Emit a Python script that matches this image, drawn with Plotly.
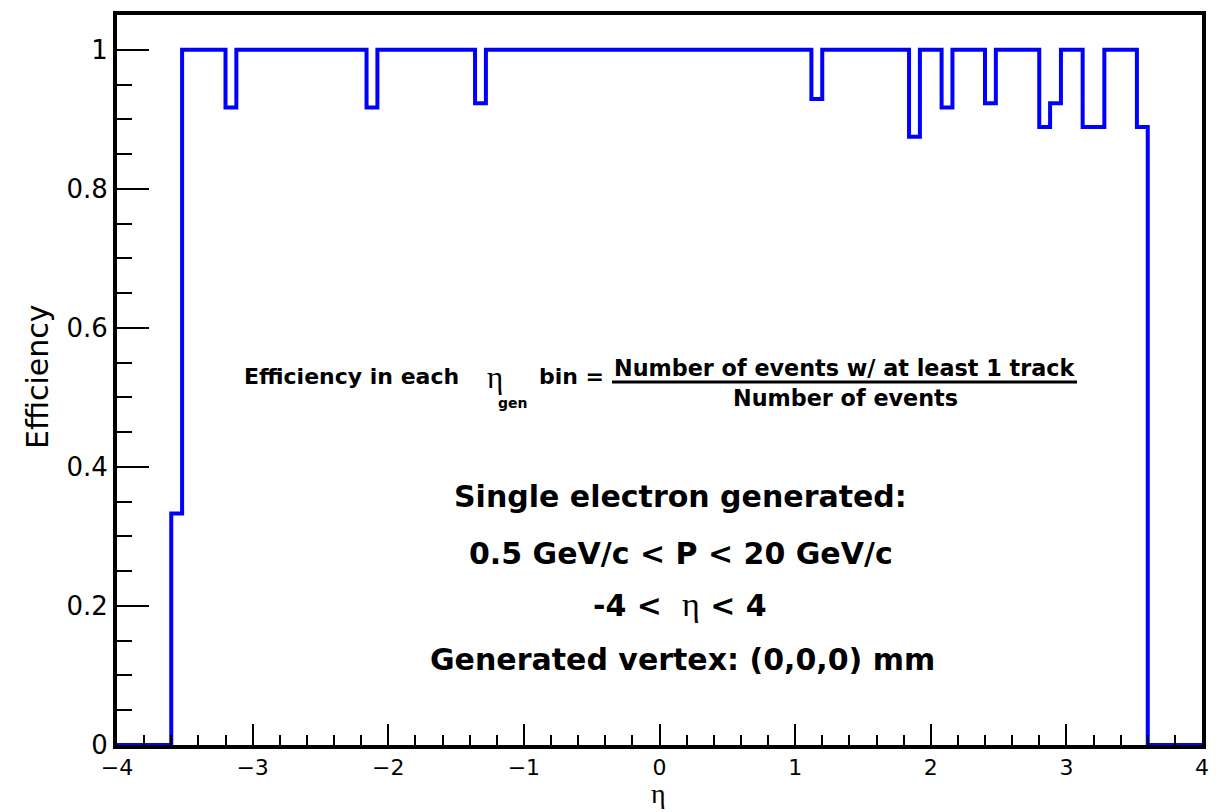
import numpy as np
import plotly.graph_objects as go

# ---------------- data ----------------
eta_min, eta_max, n_bins = -4.0, 4.0, 100
bin_edges = np.linspace(eta_min, eta_max, n_bins + 1)

efficiency = [
    0, 0, 0, 0, 0, 0.333, 1, 1, 1, 1,                 # -4.00 .. -3.28
    0.917, 1, 1, 1, 1, 1, 1, 1, 1, 1,                 # -3.20 .. -2.48
    1, 1, 1, 0.917, 1, 1, 1, 1, 1, 1,                 # -2.40 .. -1.68
    1, 1, 1, 0.923, 1, 1, 1, 1, 1, 1,                 # -1.60 .. -0.88
    1, 1, 1, 1, 1, 1, 1, 1, 1, 1,                     # -0.80 .. -0.08
    1, 1, 1, 1, 1, 1, 1, 1, 1, 1,                     #  0.00 ..  0.72
    1, 1, 1, 1, 0.929, 1, 1, 1, 1, 1,                 #  0.80 ..  1.52
    1, 1, 1, 0.875, 1, 1, 0.917, 1, 1, 1,             #  1.60 ..  2.32
    0.923, 1, 1, 1, 1, 0.889, 0.923, 1, 1, 0.889,     #  2.40 ..  3.12
    0.889, 1, 1, 1, 0.889, 0, 0, 0, 0, 0,             #  3.20 ..  3.92
]

x_tick_vals = [-4, -3, -2, -1, 0, 1, 2, 3, 4]
y_tick_vals = [0, 0.2, 0.4, 0.6, 0.8, 1.0]
y_tick_text = ["0", "0.2", "0.4", "0.6", "0.8", "1"]

# ---------------- layout helpers (pixel -> paper) ----------------
W, H = 1225, 812
L, R, T, B = 117, 23, 11, 67
PW, PH = W - L - R, H - T - B


def fx(px):
    return (px - L) / PW


def fy(py):
    return (H - B - py) / PH


SANS = "DejaVu Sans"
SERIF = "Liberation Serif"

step_x = list(bin_edges)
step_y = list(efficiency) + [efficiency[-1]]

fig = go.Figure()
fig.add_trace(go.Scatter(
    x=step_x, y=step_y, mode="lines",
    line=dict(color="#0000FF", width=4, shape="hv"),
    showlegend=False, hoverinfo="skip",
))

fig.update_layout(
    width=W, height=H,
    margin=dict(l=L, r=R, t=T, b=B, pad=0),
    paper_bgcolor="white", plot_bgcolor="white",
    showlegend=False,
)

fig.update_xaxes(
    range=[eta_min, eta_max],
    tickmode="array", tickvals=x_tick_vals,
    ticks="inside", ticklen=21, tickwidth=2, tickcolor="black",
    minor=dict(dtick=0.2, ticks="inside", ticklen=10, tickwidth=2, tickcolor="black", showgrid=False),
    showline=True, linewidth=4, linecolor="black", mirror=True,
    showgrid=False, zeroline=False,
    tickfont=dict(family=SANS, size=22, color="black"),
)
fig.update_yaxes(
    range=[0, 1.05],
    tickmode="array", tickvals=y_tick_vals, ticktext=y_tick_text,
    ticks="inside", ticklen=32, tickwidth=2, tickcolor="black",
    minor=dict(dtick=0.05, ticks="inside", ticklen=15, tickwidth=2, tickcolor="black", showgrid=False),
    showline=True, linewidth=4, linecolor="black", mirror=True,
    showgrid=False, zeroline=False,
    tickfont=dict(family=SANS, size=26, color="black"),
)

ann = []


def add(text, px, py, size, family=SANS, xanchor="center", angle=0):
    ann.append(dict(
        text=text, x=fx(px), y=fy(py), xref="paper", yref="paper",
        xanchor=xanchor, yanchor="middle", showarrow=False, textangle=angle,
        font=dict(family=family, size=size, color="black"), borderpad=0,
    ))


# axis titles
add("Efficiency", 37, 375, 30, angle=-90)
add("η", 658, 794, 28, family=SERIF)

# efficiency formula
add("<b>Efficiency in each</b>", 243, 374, 22, xanchor="left")
add("η", 486, 375, 31, family=SERIF, xanchor="left")
add("<b>gen</b>", 497, 401, 14, xanchor="left")
add("<b>bin =</b>", 538, 374, 22, xanchor="left")
add("<b>Number of events w/ at least 1 track</b>", 844.5, 366, 22.3)
add("<b>Number of events</b>", 845, 396, 22.3)

# description
add("<b>Single electron generated:</b>", 681, 495, 30)
add("<b>0.5 GeV/c &lt; P &lt; 20 GeV/c</b>", 681, 552.5, 30)
add("<b>-4 &lt; </b> <span style='font-family:Liberation Serif;font-size:34px'>η</span><b> &lt; 4</b>", 680, 604, 30)
add("<b>Generated vertex: (0,0,0) mm</b>", 682.5, 659, 30)

fig.update_layout(annotations=ann)

# fraction bar
fig.add_shape(type="line", xref="paper", yref="paper",
              x0=fx(612), x1=fx(1077), y0=fy(380), y1=fy(380),
              line=dict(color="black", width=3))

fig.write_html("out.html")
